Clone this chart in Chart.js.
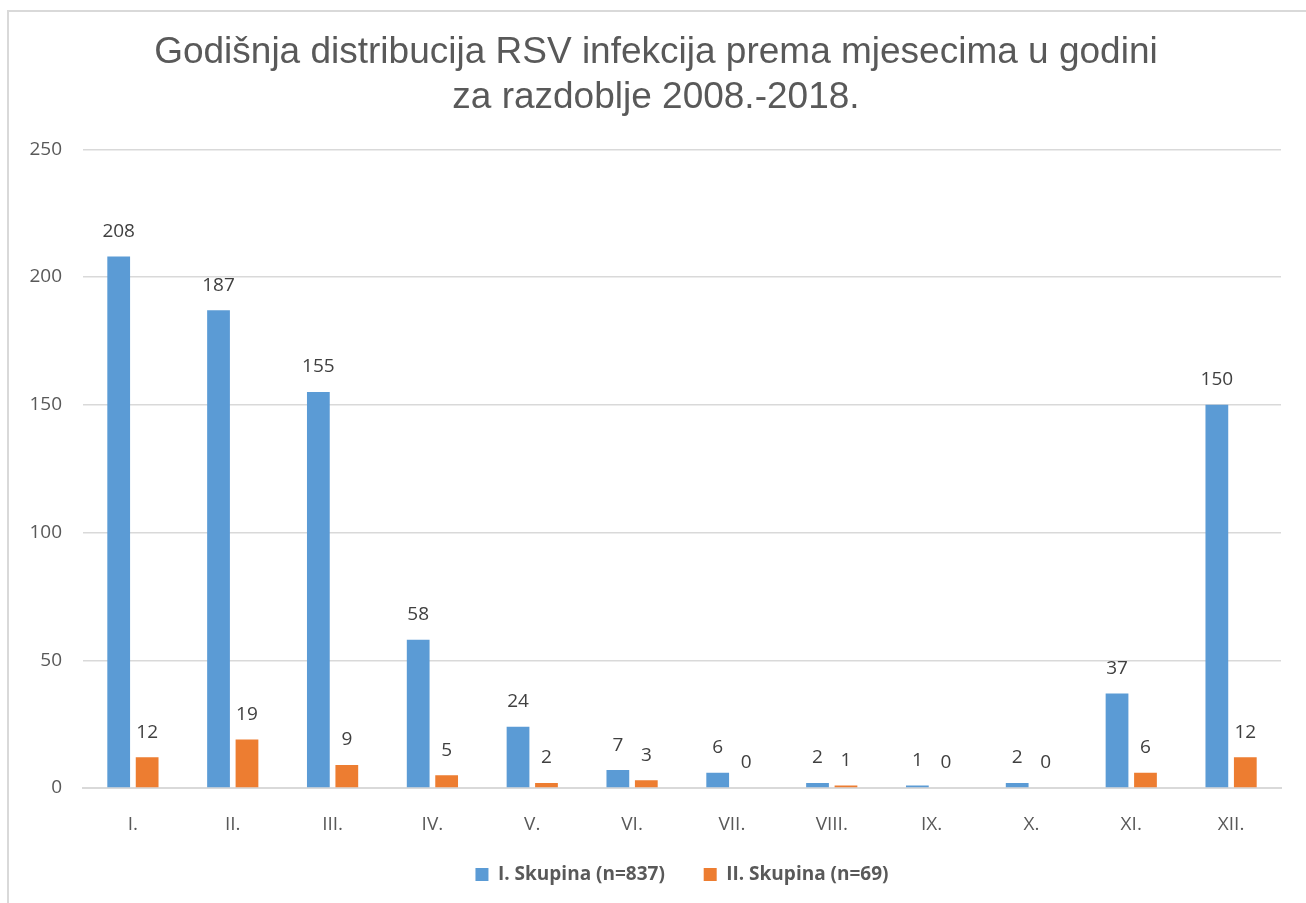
<!DOCTYPE html>
<html lang="hr">
<head>
  <meta charset="UTF-8">
  <title>Godišnja distribucija RSV infekcija</title>
  <script src="https://cdn.jsdelivr.net/npm/chart.js"></script>
  <style>
    html, body {
      margin: 0;
      padding: 0;
      background: #ffffff;
      overflow: hidden;
    }
    .frame {
      position: absolute;
      left: 7px;
      top: 10px;
      width: 1320px;
      height: 920px;
      border: 2px solid #d9d9d9;
      box-sizing: border-box;
    }
    .chart-box {
      position: absolute;
      left: 0;
      top: 0;
      width: 1306px;
      height: 903px;
    }
  </style>
</head>
<body>
  <div class="frame"></div>
  <div class="chart-box">
    <canvas id="rsvChart"></canvas>
  </div>
  <script>
    // months (roman numerals) and counts per group
    const months = ['I.', 'II.', 'III.', 'IV.', 'V.', 'VI.', 'VII.', 'VIII.', 'IX.', 'X.', 'XI.', 'XII.'];
    const group1 = [208, 187, 155, 58, 24, 7, 6, 2, 1, 2, 37, 150];
    const group2 = [12, 19, 9, 5, 2, 3, 0, 1, 0, 0, 6, 12];
    const yTicks = [0, 50, 100, 150, 200, 250];

    const textGrey = '#595959';
    const nbsp = '\u00a0';

    // value labels above each bar
    const barValues = {
      id: 'barValues',
      afterDatasetsDraw(chart) {
        const ctx = chart.ctx;
        ctx.save();
        ctx.font = '19px "Open Sans", sans-serif';
        ctx.fillStyle = '#404040';
        ctx.textAlign = 'center';
        ctx.textBaseline = 'middle';
        chart.data.datasets.forEach((ds, i) => {
          chart.getDatasetMeta(i).data.forEach((bar, j) => {
            ctx.fillText(String(ds.data[j]), bar.x, bar.y - 25);
          });
        });
        ctx.restore();
      }
    };

    new Chart(document.getElementById('rsvChart'), {
      type: 'bar',
      data: {
        labels: months,
        datasets: [{
          label: 'I. Skupina (n=837)',
          data: group1,
          backgroundColor: '#5b9bd5'
        }, {
          label: 'II. Skupina (n=69)',
          data: group2,
          backgroundColor: '#ed7d31'
        }]
      },
      options: {
        responsive: true,
        maintainAspectRatio: false,
        animation: false,
        layout: {
          padding: { top: 30, right: 25, bottom: 9, left: 0 }
        },
        datasets: {
          bar: {
            categoryPercentage: 0.57,
            barPercentage: 0.8
          }
        },
        plugins: {
          title: {
            display: true,
            // leading spaces nudge the centred title to the right like the original
            text: [nbsp.repeat(3) + 'Godišnja distribucija RSV infekcija prema mjesecima u godini',
                   nbsp.repeat(3) + 'za razdoblje 2008.-2018.'],
            color: textGrey,
            font: { family: '"Liberation Sans", Arial, sans-serif', size: 37, weight: 'normal', lineHeight: 1.22 },
            padding: { top: 0, bottom: 29 }
          },
          legend: {
            position: 'bottom',
            fullSize: false,
            labels: {
              color: textGrey,
              font: { family: '"Open Sans", sans-serif', size: 19, weight: 'bold' },
              boxWidth: 13,
              boxHeight: 13,
              padding: 24,
              generateLabels(chart) {
                const items = Chart.defaults.plugins.legend.labels.generateLabels(chart);
                items[0].text += nbsp.repeat(3);
                return items;
              }
            }
          },
          tooltip: { enabled: false }
        },
        scales: {
          x: {
            afterFit(scale) {
              scale.height = 53;
            },
            grid: { display: false },
            border: { color: '#d9d9d9', width: 2 },
            ticks: {
              color: textGrey,
              font: { family: '"Open Sans", sans-serif', size: 19 },
              padding: 17
            }
          },
          y: {
            min: 0,
            max: 250,
            afterBuildTicks(scale) {
              scale.ticks = yTicks.map(v => ({ value: v }));
            },
            afterFit(scale) {
              scale.width = 83;
            },
            grid: { color: '#d9d9d9', lineWidth: 1.5, drawTicks: false },
            border: { display: false },
            ticks: {
              color: textGrey,
              font: { family: '"Open Sans", sans-serif', size: 19 },
              padding: 21
            }
          }
        }
      },
      plugins: [barValues]
    });
  </script>
</body>
</html>
